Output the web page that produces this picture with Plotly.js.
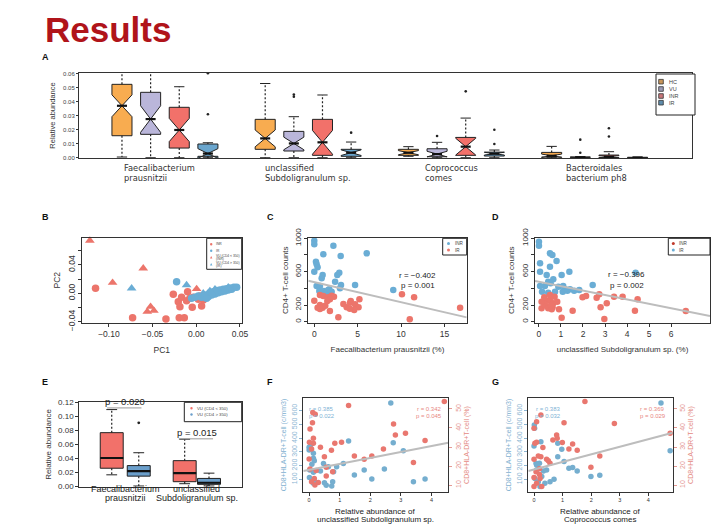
<!DOCTYPE html>
<html><head><meta charset="utf-8">
<script src="https://cdn.plot.ly/plotly-3.0.1.min.js"></script>
<style>html,body{margin:0;padding:0;background:#fff}#chart{width:720px;height:525px}</style>
</head><body><div id="chart"></div>
<script>
// ================= DATA =================
// Panel A: notched boxplots, 4 taxa x 4 groups
const taxaA = ['Faecalibacterium<br>prausnitzii','unclassified<br>Subdoligranulum sp.','Coprococcus<br>comes','Bacteroidales<br>bacterium ph8'];
const groupsA = ['HC','VU','INR','IR'];
const hcQ1 = [0.0157,0.0060,0.0017,0.0005], hcMed=[0.0371,0.0138,0.0036,0.0014], hcQ3=[0.0524,0.0274,0.0060,0.0038], hcLo=[0.0005,0.0,0.0010,0.0], hcHi=[0.0700,0.0530,0.0079,0.0081], hcNotch=[0.0078,0.0060,0.0015,0.0012];
const vuQ1 = [0.0167,0.0048,0.0007,0.0000], vuMed=[0.0276,0.0102,0.0026,0.0002], vuQ3=[0.0467,0.0188,0.0064,0.0005], vuLo=[0.0,0.0,0.0,0.0], vuHi=[0.0700,0.0293,0.0110,0.0008], vuNotch=[0.0095,0.0045,0.0020,0.0003];
const inrQ1= [0.0069,0.0017,0.0017,0.0002], inrMed=[0.0198,0.0110,0.0079,0.0007], inrQ3=[0.0360,0.0274,0.0145,0.0019], inrLo=[0.0,0.0,0.0,0.0], inrHi=[0.0507,0.0448,0.0283,0.0043], inrNotch=[0.0083,0.0085,0.0060,0.0008];
const irQ1 = [0.0010,0.0010,0.0012,0.0000], irMed=[0.0030,0.0036,0.0029,0.0001], irQ3=[0.0098,0.0060,0.0040,0.0003], irLo=[0.0,0.0,0.0,0.0], irHi=[0.0107,0.0112,0.0055,0.0004], irNotch=[0.0035,0.0020,0.0010,0.0001];
const outA_group = [3,3,1,1,3,1,2,3,3,1,1,2,2];
const outA_taxon = [0,0,1,1,1,2,2,2,2,3,3,3,3];
const outA_value = [0.0310,0.0603,0.0452,0.0436,0.0179,0.0155,0.0474,0.0200,0.0098,0.0036,0.0129,0.0152,0.0210];

// Panel B: PCA
const bRedCircX = [-0.1153,-0.0729,-0.0347,-0.0263,-0.0168,-0.0206,-0.0111,-0.0187,-0.0046,0.0061,-0.0195,-0.0137,-0.0099,-0.0073,0.0023,0.0080,-0.0034,0.0042];
const bRedCircY = [0.0070,-0.0343,-0.0362,-0.0014,-0.0056,-0.0117,-0.0103,-0.0188,-0.0197,-0.0178,-0.0343,-0.0343,0.0023,-0.0070,-0.0085,-0.0094,-0.0056,-0.0038];
const bBlueCircX = [-0.0225,-0.0053,-0.0015,0.0023,0.0061,0.0099,0.0137,0.0156,0.0195,0.0233,0.0271,0.0290,0.0309,0.0347,0.0366,0.0385,0.0405,0.0431,0.0462,0.0328,0.0252,0.0214,0.0176,0.0118];
const bBlueCircY = [0.0164,-0.0070,-0.0056,-0.0038,-0.0056,-0.0023,-0.0047,0.0009,0.0023,0.0038,0.0047,0.0023,0.0056,0.0066,0.0047,0.0075,0.0056,0.0085,0.0085,0.0033,0.0009,-0.0009,-0.0023,-0.0070];
const bRedTriX = [-0.1218,-0.0607,-0.0958,-0.0523,-0.0561,-0.0485,0.0004];
const bRedTriY = [0.0742,0.0352,0.0150,-0.0188,-0.0258,-0.0244,0.0061];
const bBlueTriX = [-0.0740,-0.0111,0.0214,0.0080,0.0156,0.0366];
const bBlueTriY = [0.0070,0.0117,0.0056,0.0000,0.0033,0.0085];
const bLegend = ['INR','IR','VU (CD4 < 350)<br>(INR)','VU (CD4 > 350)<br>(IR)'];

// Panel C
const cBlueX = [0,0,2.2,1.04,6.04,3.04,0.19,0.27,0.38,0,0.96,0.85,2.88,2.65,2.4,3.08,2.96,0.27,0.65,4.7,9.1,0.58,1.1,1.6,1.35,1.73,2.0];
const cBlueY = [972,928,912,808,820,788,720,688,652,600,560,520,588,560,480,440,400,428,428,440,380,368,368,380,348,388,360];
const cRedX = [0,0.65,1.04,1.6,2,2.27,1.8,1.5,0.65,0.38,0.65,1.8,2.77,3.35,3.73,4.12,4.2,4.7,5.2,5.1,4.6,4.1,10.1,11.5,11,16.8,0.96,1.27];
const cRedY = [252,320,308,292,312,300,268,248,200,168,152,128,52,212,172,228,248,208,268,172,140,156,328,292,28,168,168,192];
const cFit = [473.4,-24.0];
const cStats = ['r = \u22120.402','p = 0.001'];

// Panel D
const dBlueX = [0,0,0.5,0.61,0.8,0.05,0.5,1.38,0.05,0.35,1.03,0.65,0.42,0.53,0.27,0.05,0.88,1.1,1.18,1.41,1.08,1.83,2.44,4.39,0.14,0.42,0.73,1.29,1.6];
const dBlueY = [960,912,820,800,728,700,660,600,600,560,560,508,480,460,428,428,420,428,388,388,360,380,440,588,360,348,360,372,372];
const dRedX = [0.12,0.27,0.35,0.5,0.65,0.83,0.12,0.24,0.5,0.42,0.62,0.58,0.91,1.03,1.53,1.98,2.14,2.62,2.74,2.8,3.08,2.97,3.41,3.8,4.36,4.48,6.67,0.55,0.71];
const dRedY = [160,200,252,260,220,240,240,292,320,160,172,148,148,48,132,292,308,288,328,172,220,32,300,300,132,268,128,200,300];
const dFit = [478.5,-52.8];
const dStats = ['r = \u22120.396','p = 0.002'];

// Panel E
const taxaE = ['Faecalibacterium<br>prausnitzii','unclassified<br>Subdoligranulum sp.'];
const groupsE = ['VU (CD4 < 350)','VU (CD4 > 350)'];
const lowQ1=[0.0256,0.0062], lowMed=[0.0403,0.0185], lowQ3=[0.0768,0.0365], lowLo=[0.0161,0.0033], lowHi=[0.1100,0.0673];
const highQ1=[0.0142,0.0024], highMed=[0.0213,0.0047], highQ3=[0.0294,0.0109], highLo=[0.0,0.0], highHi=[0.0479,0.0185];
const outE_value = [0.091];
const pTextE = ['p = 0.020','p = 0.015'];
const pLineE = [0.1124,0.0679];

// Panel F
const fBlueX = [2.67,1.29,2.75,3.08,0,0.05,0,0.14,0.14,0.17,0.47,0.09,0.02,0.37,0.14,0.63,0.9,1.12,0.8,1.48,1.8,2.05,2.46,3.41,3.79,0.19,0.14,0.5,0.74,0.77,0.56,0.01];
const fBlueY = [655,380,367,309,333,350,314,290,253,236,216,209,168,161,151,192,192,216,156,131,168,102,175,83,102,83,71,76,52,83,57,114];
const fRedX = [4.42,1.29,0.12,0.2,0.11,0.03,0.14,0.01,0.14,0.37,0.08,0.84,1.06,0.73,2.76,2.82,3.15,2.43,3.79,1.48,1.8,2.05,0.5,0,0.03,0.56,0.23,0.77,0.56,0.17,0.08,0.3,0.19,3.41];
const fRedY = [53.9,51.8,48.1,47.2,42.8,39.5,34.6,32.5,32,29.9,29,32,32.5,28.3,42.1,36.3,37.2,29,33.4,25.3,23.5,25.3,24.9,23.7,18.4,19.3,17.6,17,14.7,13.5,11.7,11.4,10,21.8];
const fFit = [18.0,3.14];
const fStatsBlue = ['r = 0.385','p = 0.022'], fStatsRed = ['r = 0.342','p = 0.045'];

// Panel G
const gBlueX = [4.44,4.76,0.01,0.02,0.24,0,0.07,0.19,0.83,0.97,0.83,1.05,1.22,1.35,1.51,1.99,2.3,0.09,0.33,0.44,0.27,0.38,0.56,0.7,0.21,0.15,0.03,0.09];
const gBlueY = [655,309,496,472,374,343,217,217,265,319,362,229,180,187,161,120,129,168,161,168,120,71,83,100,47,83,107,205];
const gRedX = [1.78,0.24,0.09,0,1.05,2.81,4.76,0.79,0.81,0.66,0.99,0.03,0.09,0.31,1.35,1.22,1.51,0.15,0.24,0,0.44,0.56,0.5,2.3,1.99,0.07,0.19,0,0.21,0.09,0,0.27,0.19];
const gRedY = [53.9,46.8,43.3,39.8,42.8,42.4,37.2,36.3,34.6,33.7,32.3,32,32.5,29.8,31.6,28.9,28.3,25.3,24.9,23.5,23.5,21.4,22.8,25.3,19.3,17,15.6,14,13.5,10.9,9.2,9.2,18.6];
const gFit = [18.2,3.98];
const gStatsBlue = ['r = 0.383','p = 0.032'], gStatsRed = ['r = 0.369','p = 0.029'];

// ================= STYLE / HELPERS =================
const FONT = 'Liberation Sans, Arial, sans-serif';
const DV = 'DejaVu Sans, sans-serif';
const RED = '#EC756B', BLUE = '#6AADD5', LBLUE = '#7FB3D5', LRED = '#E8877F';
const colA = ['#F8AC50','#BAB6DA','#F2716A','#6AA6CE'];
const colALeg = ['#C8955A','#9C9AB5','#C9767A','#5F8CAB'];
const L = x => x/720, T = y => 1 - y/525;
const dX = (a,b) => [L(a),L(b)], dY = (top,bot) => [T(bot),T(top)];
const traces = [], shapes = [], annotations = [];

function ax(extra){
  return Object.assign({showline:true, linecolor:'#333', linewidth:1, mirror:true, ticks:'outside', ticklen:3,
    tickwidth:1, tickcolor:'#333', showgrid:false, zeroline:false, tickfont:{family:FONT,size:8,color:'#333'}}, extra);
}
function whiskers(xa, ya, xs, q1, q3, lo, hi, cap){
  const wx=[],wy=[],cx=[],cy=[];
  xs.forEach((x,i)=>{
    if(hi[i]>q3[i]){ wx.push(x,x,null); wy.push(q3[i],hi[i],null); cx.push(x-cap,x+cap,null); cy.push(hi[i],hi[i],null); }
    if(lo[i]<q1[i]){ wx.push(x,x,null); wy.push(q1[i],lo[i],null); cx.push(x-cap,x+cap,null); cy.push(lo[i],lo[i],null); }
  });
  traces.push({type:'scatter',mode:'lines',xaxis:xa,yaxis:ya,x:wx,y:wy,line:{color:'#222',width:1.2,dash:'2px,2px'},hoverinfo:'skip'});
  traces.push({type:'scatter',mode:'lines',xaxis:xa,yaxis:ya,x:cx,y:cy,line:{color:'#222',width:1},hoverinfo:'skip'});
}
function medians(xa, ya, xs, med, half){
  const mx=[],my=[];
  xs.forEach((x,i)=>{ mx.push(x-half,x+half,null); my.push(med[i],med[i],null); });
  traces.push({type:'scatter',mode:'lines',xaxis:xa,yaxis:ya,x:mx,y:my,line:{color:'#111',width:2.2},hoverinfo:'skip'});
}
function pts(xa, ya, x, y, color, size, symbol){
  traces.push({type:'scatter',mode:'markers',xaxis:xa,yaxis:ya,x:x,y:y,cliponaxis:false,
    marker:{color:color,size:size,symbol:symbol||'circle',line:{width:0}},hoverinfo:'skip'});
}
function fitLine(xa, ya, range, fit){
  traces.push({type:'scatter',mode:'lines',xaxis:xa,yaxis:ya,x:range,y:range.map(v=>fit[0]+fit[1]*v),
    line:{color:'#BDBDBD',width:2},hoverinfo:'skip'});
}
function txt(text, x, y, opts){
  annotations.push(Object.assign({text:text, x:x, y:y, xref:'paper', yref:'paper', showarrow:false,
    xanchor:'center', yanchor:'middle', font:{family:FONT,size:8,color:'#222'}}, opts||{}));
}
function lines(text, x, yTopPx, spacing, opts){
  text.split('<br>').forEach((s,i)=> txt(s, x, T(yTopPx + i*spacing), opts));
}
function addLegend(box, items, symX, textX, fs, sz){
  shapes.push({type:'rect',xref:'paper',yref:'paper',x0:L(box[0]),x1:L(box[2]),y0:T(box[3]),y1:T(box[1]),
    line:{color:'#222',width:1},fillcolor:'#fff',layer:'above'});
  items.forEach(it=>{
    const r = sz/2, cy = it.y;
    if(it.sym==='square'){
      shapes.push({type:'rect',xref:'paper',yref:'paper',x0:L(symX-r),x1:L(symX+r),y0:T(cy+r),y1:T(cy-r),
        line:{color:'#333',width:0.8},fillcolor:it.color,layer:'above'});
    } else if(it.sym==='triangle'){
      shapes.push({type:'path',xref:'paper',yref:'paper',
        path:`M ${L(symX-r)},${T(cy+r)} L ${L(symX+r)},${T(cy+r)} L ${L(symX)},${T(cy-r)} Z`,
        line:{width:0},fillcolor:it.color,layer:'above'});
    } else {
      shapes.push({type:'circle',xref:'paper',yref:'paper',x0:L(symX-r),x1:L(symX+r),y0:T(cy+r),y1:T(cy-r),
        line:{width:0},fillcolor:it.color,layer:'above'});
    }
    const ls = it.label.split('<br>');
    ls.forEach((s,k)=> txt(s, L(textX), T(cy + (k - (ls.length-1)/2)*fs*1.05), {xanchor:'left',font:{family:FONT,size:fs,color:'#444'}}));
  });
}

// ================= PANEL A =================
const statsA = [
  {q1:hcQ1,med:hcMed,q3:hcQ3,lo:hcLo,hi:hcHi,notch:hcNotch},
  {q1:vuQ1,med:vuMed,q3:vuQ3,lo:vuLo,hi:vuHi,notch:vuNotch},
  {q1:inrQ1,med:inrMed,q3:inrQ3,lo:inrLo,hi:inrHi,notch:inrNotch},
  {q1:irQ1,med:irMed,q3:irQ3,lo:irLo,hi:irHi,notch:irNotch}
];
const BWA = 0.7;
statsA.forEach((s,g)=>{
  const xs = s.q1.map((_,t)=> t*5 + g);
  whiskers('x','y',xs,s.q1,s.q3,s.lo,s.hi,0.18);
  traces.push({type:'box',xaxis:'x',yaxis:'y',name:groupsA[g],x:xs,q1:s.q1,median:s.med,q3:s.q3,
    lowerfence:s.q1,upperfence:s.q3,notched:true,notchspan:s.notch,notchwidth:0.5,width:BWA,
    fillcolor:colA[g],line:{color:'#222',width:1},boxpoints:false,whiskerwidth:0,hoverinfo:'skip'});
  medians('x','y',xs,s.med,BWA/4);
});
pts('x','y', outA_value.map((_,i)=> outA_taxon[i]*5 + outA_group[i]), outA_value, '#222', 2.6);
const offA = [0.0,-0.1,0.5,0.4];
taxaA.forEach((t,i)=> lines(t, L(122 + (i*5 + offA[i])*28.7), 168.3, 10, {xanchor:'left',font:{family:DV,size:8.3,color:'#333'}}));
addLegend([656,74,695,115], groupsA.map((g,i)=>({label:g,color:colALeg[i],sym:'square',y:[81.7,89,96,102.7][i]})), 661, 666.5, 5.5, 4.6);

// ================= PANEL B =================
pts('x2','y2',bRedCircX,bRedCircY,RED,7.5);
pts('x2','y2',bBlueCircX,bBlueCircY,BLUE,7.5);
pts('x2','y2',bRedTriX,bRedTriY,RED,8.5,'triangle-up');
pts('x2','y2',bBlueTriX,bBlueTriY,BLUE,8.5,'triangle-up');
addLegend([206.7,238.3,241.7,269.3], [
  {label:bLegend[0],color:RED,sym:'circle',y:244.3},
  {label:bLegend[1],color:BLUE,sym:'circle',y:250.8},
  {label:bLegend[2],color:RED,sym:'triangle',y:257.3},
  {label:bLegend[3],color:BLUE,sym:'triangle',y:264.3}], 211.2, 214.2, 3.3, 2.4);

// ================= PANEL C =================
const rangeC = [-0.69,17.56];
pts('x3','y3',cBlueX,cBlueY,BLUE,6.5);
pts('x3','y3',cRedX,cRedY,RED,6.5);
fitLine('x3','y3',rangeC,cFit);
annotations.push({text:cStats[0],x:11.9,y:552,xref:'x3',yref:'y3',showarrow:false,font:{family:FONT,size:8,color:'#222'}});
annotations.push({text:cStats[1],x:11.9,y:440,xref:'x3',yref:'y3',showarrow:false,font:{family:FONT,size:8,color:'#222'}});
addLegend([442.7,238.3,466.7,255], [{label:'INR',color:BLUE,sym:'circle',y:243.5},{label:'IR',color:RED,sym:'circle',y:250}], 448.5, 452.5, 4.6, 3);

// ================= PANEL D =================
const rangeD = [-0.18,7.77];
pts('x4','y4',dBlueX,dBlueY,BLUE,6.5);
pts('x4','y4',dRedX,dRedY,RED,6.5);
fitLine('x4','y4',rangeD,dFit);
annotations.push({text:dStats[0],x:3.99,y:562,xref:'x4',yref:'y4',showarrow:false,font:{family:FONT,size:8,color:'#222'}});
annotations.push({text:dStats[1],x:3.99,y:440,xref:'x4',yref:'y4',showarrow:false,font:{family:FONT,size:8,color:'#222'}});
addLegend([668.3,238.3,710,255], [{label:'INR',color:'#C0392B',sym:'circle',y:243.5},{label:'IR',color:BLUE,sym:'circle',y:250}], 673.3, 677.3, 4.6, 3);

// ================= PANEL E =================
const posE = [[1,2],[3.7,4.6]];
const BWE = 0.85;
const colE = ['#F2716A','#6B9FCB'];
const statsE = [
  {q1:lowQ1,med:lowMed,q3:lowQ3,lo:lowLo,hi:lowHi},
  {q1:highQ1,med:highMed,q3:highQ3,lo:highLo,hi:highHi}
];
statsE.forEach((s,g)=>{
  const xs = posE.map(p=>p[g]);
  whiskers('x5','y5',xs,s.q1,s.q3,s.lo,s.hi,0.2);
  traces.push({type:'box',xaxis:'x5',yaxis:'y5',name:groupsE[g],x:xs,q1:s.q1,median:s.med,q3:s.q3,
    lowerfence:s.q1,upperfence:s.q3,width:BWE,fillcolor:colE[g],line:{color:'#222',width:1},
    boxpoints:false,whiskerwidth:0,hoverinfo:'skip'});
  medians('x5','y5',xs,s.med,BWE/2);
});
pts('x5','y5',[posE[0][1]],outE_value,'#222',2.8);
pTextE.forEach((p,i)=>{
  const c = (posE[i][0]+posE[i][1])/2;
  shapes.push({type:'line',xref:'x5',yref:'y5',x0:c-0.67,x1:c+0.6,y0:pLineE[i],y1:pLineE[i],line:{color:'#999',width:1}});
  annotations.push({text:p,x:c,y:pLineE[i],xref:'x5',yref:'y5',yanchor:'bottom',showarrow:false,yshift:-1,font:{family:FONT,size:9.5,color:'#222'}});
});
taxaE.forEach((t,i)=> lines(t, L(111.7 + ((posE[i][0]+posE[i][1])/2 - 1)*27), 489, 8.7, {font:{family:FONT,size:9,color:'#222'}}));
addLegend([184.3,402.3,241.7,421.7], groupsE.map((g,i)=>({label:g,color:colE[i],sym:'circle',y:[408.3,414.5][i]})), 191.5, 195.5, 4.3, 2.4);

// ================= PANEL F =================
const rangeF = [-0.19,4.55];
pts('x6','y6',fBlueX,fBlueY,'#75AECF',5.5);
pts('x6','y7',fRedX,fRedY,'#E9776F',5.5);
fitLine('x6','y7',rangeF,fFit);
lines(fStatsBlue.join('<br>'), L(321.7), 409.3, 6.5, {font:{family:FONT,size:6,color:LBLUE}});
lines(fStatsRed.join('<br>'), L(429.3), 409.3, 6.5, {font:{family:FONT,size:6,color:LRED}});
lines('Relative abundance of<br>unclassified Subdoligranulum sp.', L(375), 511.7, 7.5, {font:{family:FONT,size:8,color:'#222'}});

// ================= PANEL G =================
const rangeG = [-0.2,4.85];
pts('x7','y8',gBlueX,gBlueY,'#75AECF',5.5);
pts('x7','y9',gRedX,gRedY,'#E9776F',5.5);
fitLine('x7','y9',rangeG,gFit);
lines(gStatsBlue.join('<br>'), L(548.3), 409, 6.5, {font:{family:FONT,size:6,color:LBLUE}});
lines(gStatsRed.join('<br>'), L(652.7), 409, 6.5, {font:{family:FONT,size:6,color:LRED}});
lines('Relative abundance of<br>Coprococcus comes', L(600), 511.7, 7.5, {font:{family:FONT,size:8,color:'#222'}});

// ================= TITLES & PANEL LETTERS =================
txt('<b>Results</b>', L(43), T(8), {xanchor:'left',yanchor:'top',font:{family:FONT,size:35,color:'#B0141A'}});
[['A',45,57],['B',45,216.7],['C',270,216.7],['D',495,216.7],['E',45,381.7],['F',270,381.7],['G',495,381.7]]
  .forEach(p=> txt('<b>'+p[0]+'</b>', L(p[1]), T(p[2]), {font:{family:FONT,size:9,color:'#111'}}));

// ================= LAYOUT =================
const yTicksC = {tickvals:[0,200,400,600,800,1000], ticktext:['0','200','','600','','1000'], tickangle:-90};
const layout = {
  width:720, height:525, margin:{l:0,r:0,t:0,b:0}, paper_bgcolor:'#fff', plot_bgcolor:'#fff', showlegend:false,
  font:{family:FONT}, shapes:shapes, annotations:annotations,
  // A
  xaxis: ax({domain:dX(79,692), range:[-1.5,19.9], anchor:'y', showticklabels:false, ticks:''}),
  yaxis: ax({domain:dY(73,158), range:[-0.0002,0.0605], anchor:'x', tickvals:[0,0.01,0.02,0.03,0.04,0.05,0.06],
    ticktext:['0.00','0.01','0.02','0.03','0.04','0.05','0.06'], ticklen:2, tickfont:{family:FONT,size:6,color:'#444'},
    title:{text:'Relative abundance', font:{family:FONT,size:7.5,color:'#333'}, standoff:6}}),
  // B
  xaxis2: ax({domain:dX(82,241.7), range:[-0.1308,0.052], anchor:'y2', tickvals:[-0.10,-0.05,0,0.05],
    ticktext:['\u22120.10','\u22120.05','0.00','0.05'], tickfont:{family:FONT,size:8.5,color:'#333'},
    title:{text:'PC1', font:{family:FONT,size:8.5,color:'#333'}, standoff:8}}),
  yaxis2: ax({domain:dY(237.5,323), range:[-0.0418,0.0786], anchor:'x2', tickvals:[-0.04,-0.02,0,0.02,0.04,0.06],
    ticktext:['\u22120.04','','0.00','','0.04',''], tickangle:-90, tickfont:{family:FONT,size:8.5,color:'#333'},
    title:{text:'PC2', font:{family:FONT,size:8.5,color:'#333'}, standoff:4}}),
  // C
  xaxis3: ax({domain:dX(308.3,466.7), range:rangeC, anchor:'y3', tickvals:[0,5,10,15], tickfont:{family:FONT,size:8.5,color:'#333'},
    title:{text:'Faecalibacterium prausnitzii (%)', font:{family:FONT,size:8,color:'#333'}, standoff:8}}),
  yaxis3: ax(Object.assign({domain:dY(237.5,323), range:[-15.6,1009.6], anchor:'x3', tickfont:{family:FONT,size:8,color:'#333'},
    title:{text:'CD4+ T-cell counts', font:{family:FONT,size:8,color:'#333'}, standoff:4}}, yTicksC)),
  // D
  xaxis4: ax({domain:dX(535,710), range:rangeD, anchor:'y4', tickvals:[0,1,2,3,4,5,6], tickfont:{family:FONT,size:8.5,color:'#333'},
    title:{text:'unclassified Subdoligranulum sp. (%)', font:{family:FONT,size:8,color:'#333'}, standoff:8}}),
  yaxis4: ax(Object.assign({domain:dY(237.5,323), range:[-15.6,1009.6], anchor:'x4', tickfont:{family:FONT,size:8,color:'#333'},
    title:{text:'CD4+ T-cell counts', font:{family:FONT,size:8,color:'#333'}, standoff:4}}, yTicksC)),
  // E
  xaxis5: ax({domain:dX(79.3,241.7), range:[-0.2,5.81], anchor:'y5', showticklabels:false, ticks:''}),
  yaxis5: ax({domain:dY(402.3,486.7), range:[-0.001,0.1205], anchor:'x5', tickvals:[0,0.02,0.04,0.06,0.08,0.1,0.12],
    ticktext:['0.00','0.02','0.04','0.06','0.08','0.10','0.12'], tickfont:{family:FONT,size:8,color:'#333'},
    title:{text:'Relative abundance', font:{family:FONT,size:8,color:'#333'}, standoff:5}}),
  // F
  xaxis6: ax({domain:dX(303.3,448.3), range:rangeF, anchor:'y6', tickvals:[0,1,2,3,4], ticklen:3, tickfont:{family:FONT,size:5.5,color:'#333'}}),
  yaxis6: ax({domain:dY(398.3,491.7), range:[10,690], anchor:'x6', mirror:false, tickvals:[100,200,300,400,500,600], tickangle:-90,
    tickcolor:'#8DB6D3', tickfont:{family:FONT,size:7,color:'#8DB6D3'},
    title:{text:'CD8+HLA-DR+T-cell (c/mm3)', font:{family:FONT,size:7,color:'#7FB0D0'}, standoff:3}}),
  yaxis7: ax({domain:dY(398.3,491.7), range:[6.5,55.6], anchor:'x6', overlaying:'y6', side:'right', mirror:false,
    tickvals:[10,20,30,40,50], tickangle:-90, tickcolor:'#E59A94', tickfont:{family:FONT,size:7,color:'#E59A94'},
    title:{text:'CD8+HLA-DR+T-cell (%)', font:{family:FONT,size:7,color:'#E48A83'}, standoff:3}}),
  // G
  xaxis7: ax({domain:dX(528.3,672.7), range:rangeG, anchor:'y8', tickvals:[0,1,2,3,4], ticklen:3, tickfont:{family:FONT,size:5.5,color:'#333'}}),
  yaxis8: ax({domain:dY(398.3,491.7), range:[10,690], anchor:'x7', mirror:false, tickvals:[100,200,300,400,500,600], tickangle:-90,
    tickcolor:'#8DB6D3', tickfont:{family:FONT,size:7,color:'#8DB6D3'},
    title:{text:'CD8+HLA-DR+T-cell (c/mm3)', font:{family:FONT,size:7,color:'#7FB0D0'}, standoff:3}}),
  yaxis9: ax({domain:dY(398.3,491.7), range:[6.5,55.6], anchor:'x7', overlaying:'y8', side:'right', mirror:false,
    tickvals:[10,20,30,40,50], tickangle:-90, tickcolor:'#E59A94', tickfont:{family:FONT,size:7,color:'#E59A94'},
    title:{text:'CD8+HLA-DR+T-cell (%)', font:{family:FONT,size:7,color:'#E48A83'}, standoff:3}})
};
Plotly.newPlot('chart', traces, layout, {staticPlot:true, displayModeBar:false});
</script>
</body></html>
